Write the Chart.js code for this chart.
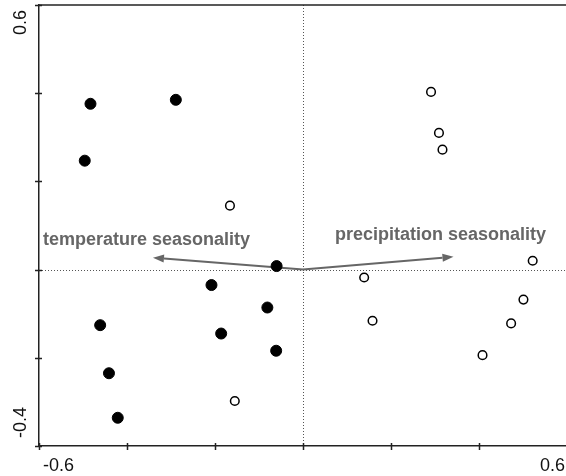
<!DOCTYPE html>
<html>
<head>
<meta charset="utf-8">
<script src="https://cdn.jsdelivr.net/npm/chart.js@4"></script>
<style>
html,body{margin:0;padding:0;background:#fff;overflow:hidden;}
#wrap{width:568px;height:476px;}
</style>
</head>
<body>
<div id="wrap"><canvas id="c" width="568" height="476"></canvas></div>
<script>
// ---- data ----
const filledX = [-0.483, -0.289, -0.496, -0.060, -0.208, -0.081, -0.186, -0.061, -0.461, -0.441, -0.421];
const filledY = [0.376, 0.385, 0.247, 0.008, -0.035, -0.086, -0.145, -0.184, -0.126, -0.235, -0.336];
const openX = [-0.166, -0.155, 0.291, 0.309, 0.317, 0.139, 0.158, 0.522, 0.501, 0.473, 0.408];
const openY = [0.145, -0.298, 0.403, 0.310, 0.272, -0.018, -0.116, 0.020, -0.068, -0.122, -0.194];
const arrowNames = ['temperature seasonality', 'precipitation seasonality'];
const arrowX = [-0.341, 0.342];
const arrowY = [0.027, 0.029];
const xTickLabels = ['-0.6', '0.6'];
const yTickLabels = ['-0.4', '0.6'];

const toPts = (xs, ys) => xs.map((x, i) => ({x: x, y: ys[i]}));

const FONT = '"Liberation Sans", Arial, sans-serif';

const decor = {
  id: 'decor',
  beforeDatasetsDraw(chart) {
    const {ctx, chartArea: a, scales: {x, y}} = chart;
    const x0 = x.getPixelForValue(0), y0 = y.getPixelForValue(0);
    ctx.save();
    // zero lines (dotted)
    ctx.strokeStyle = '#555';
    ctx.lineWidth = 1;
    ctx.setLineDash([1, 2]);
    ctx.beginPath();
    ctx.moveTo(Math.round(x0) + 0.5, a.top);
    ctx.lineTo(Math.round(x0) + 0.5, a.bottom);
    ctx.moveTo(a.left, Math.round(y0) + 0.5);
    ctx.lineTo(a.right, Math.round(y0) + 0.5);
    ctx.stroke();
    ctx.setLineDash([]);
    // arrows
    ctx.strokeStyle = '#666';
    ctx.fillStyle = '#666';
    ctx.lineWidth = 2;
    arrowX.forEach((vx, i) => {
      const tx = x.getPixelForValue(vx), ty = y.getPixelForValue(arrowY[i]);
      const ang = Math.atan2(ty - y0, tx - x0);
      const L = 11, W = 4;
      const bx = tx - L * Math.cos(ang), by = ty - L * Math.sin(ang);
      ctx.beginPath();
      ctx.moveTo(x0, y0);
      ctx.lineTo(bx, by);
      ctx.stroke();
      ctx.beginPath();
      ctx.moveTo(tx, ty);
      ctx.lineTo(bx + W * Math.sin(ang), by - W * Math.cos(ang));
      ctx.lineTo(bx - W * Math.sin(ang), by + W * Math.cos(ang));
      ctx.closePath();
      ctx.fill();
    });
    // arrow labels
    const labelPos = [[-0.591, 0.0557], [0.0727, 0.067]];
    ctx.font = 'bold 18px ' + FONT;
    ctx.textBaseline = 'alphabetic';
    ctx.textAlign = 'left';
    arrowNames.forEach((t, i) => {
      ctx.fillText(t, x.getPixelForValue(labelPos[i][0]), y.getPixelForValue(labelPos[i][1]));
    });
    ctx.restore();
  },
  afterDraw(chart) {
    const {ctx, chartArea: a, scales: {x, y}} = chart;
    ctx.save();
    ctx.strokeStyle = '#222';
    ctx.lineWidth = 1.5;
    // top frame line
    ctx.beginPath();
    ctx.moveTo(a.left, a.top);
    ctx.lineTo(a.right, a.top);
    ctx.stroke();
    // tick marks (crossing axes)
    ctx.lineWidth = 1.5;
    ctx.beginPath();
    x.ticks.forEach(t => {
      const px = Math.round(x.getPixelForValue(t.value)) + 0.5;
      ctx.moveTo(px, a.bottom - 3);
      ctx.lineTo(px, a.bottom + 4);
    });
    y.ticks.forEach(t => {
      const py = Math.round(y.getPixelForValue(t.value)) + 0.5;
      ctx.moveTo(a.left - 4, py);
      ctx.lineTo(a.left + 3, py);
    });
    ctx.stroke();
    // tick labels
    ctx.fillStyle = '#111';
    ctx.font = '18px ' + FONT;
    ctx.textBaseline = 'alphabetic';
    ctx.textAlign = 'left';
    ctx.fillText(xTickLabels[0], x.getPixelForValue(x.min) + 4, a.bottom + 25);
    ctx.textAlign = 'right';
    ctx.fillText(xTickLabels[1], x.getPixelForValue(x.max) - 2, a.bottom + 25);
    // y labels rotated
    ctx.save();
    ctx.translate(a.left - 13.5, y.getPixelForValue(y.min) - 8);
    ctx.rotate(-Math.PI / 2);
    ctx.textAlign = 'left';
    ctx.fillText(yTickLabels[0], 0, 0);
    ctx.restore();
    ctx.save();
    ctx.translate(a.left - 13.5, y.getPixelForValue(y.max) + 5);
    ctx.rotate(-Math.PI / 2);
    ctx.textAlign = 'right';
    ctx.fillText(yTickLabels[1], 0, 0);
    ctx.restore();
    ctx.restore();
  }
};

new Chart(document.getElementById('c'), {
  type: 'scatter',
  data: {
    datasets: [
      {
        label: 'filled',
        data: toPts(filledX, filledY),
        pointRadius: 5.5,
        pointBackgroundColor: '#000',
        pointBorderColor: '#000',
        pointBorderWidth: 1
      },
      {
        label: 'open',
        data: toPts(openX, openY),
        pointRadius: 4.3,
        pointBackgroundColor: '#fff',
        pointBorderColor: '#000',
        pointBorderWidth: 1.5
      }
    ]
  },
  options: {
    responsive: false,
    animation: false,
    devicePixelRatio: 1,
    layout: {autoPadding: false, padding: {top: 5, right: 1, left: 0, bottom: 0}},
    plugins: {legend: {display: false}, tooltip: {enabled: false}},
    scales: {
      x: {
        type: 'linear', position: 'bottom',
        min: -0.6, max: 0.6,
        ticks: {stepSize: 0.2, display: false},
        grid: {display: false, drawTicks: false},
        border: {display: true, color: '#222', width: 1.5},
        afterFit: s => { s.height = 30; }
      },
      y: {
        type: 'linear', position: 'left',
        min: -0.4, max: 0.6,
        ticks: {stepSize: 0.2, display: false},
        grid: {display: false, drawTicks: false},
        border: {display: true, color: '#222', width: 1.5},
        afterFit: s => { s.width = 39; }
      }
    }
  },
  plugins: [decor]
});
</script>
</body>
</html>
